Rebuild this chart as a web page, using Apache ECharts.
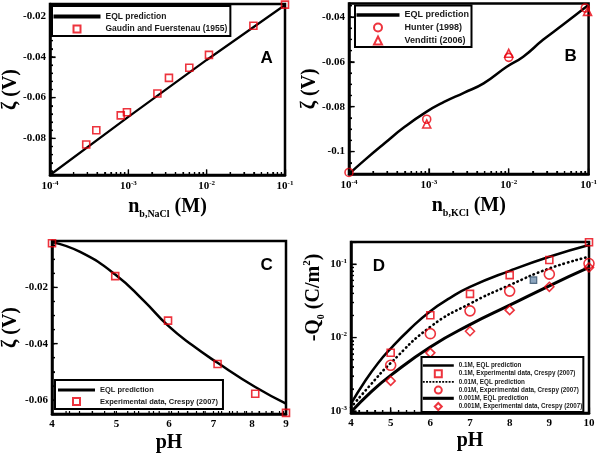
<!DOCTYPE html>
<html><head><meta charset="utf-8">
<script src="https://cdn.jsdelivr.net/npm/echarts@6/dist/echarts.min.js"></script>
<style>html,body{margin:0;padding:0;background:#fff}#c{width:600px;height:454px}</style>
</head><body><div id="c"></div>
<script>
// ---------- Panel A ----------
const aExpX = [2.9e-4, 3.9e-4, 8.0e-4, 9.6e-4, 2.35e-3, 3.3e-3, 6.0e-3, 1.07e-2, 3.95e-2, 0.1];
const aExpY = [-0.083, -0.076, -0.0687, -0.0672, -0.058, -0.0503, -0.0453, -0.039, -0.0247, -0.0143];
const aFitX = [1e-4, 1e-3, 1e-2, 1e-1];
const aFitY = [-0.098, -0.0695, -0.0415, -0.0145];
const aXTicks = [1e-4, 1e-3, 1e-2, 1e-1];
const aYTicks = [-0.08, -0.06, -0.04, -0.02];
// ---------- Panel B ----------
const bFitX = [1e-4, 1.58e-4, 2.79e-4, 4.94e-4, 9.19e-4, 1.55e-3, 2.74e-3, 4.85e-3, 9.44e-3, 1.52e-2, 2.69e-2, 4.77e-2, 9.77e-2];
const bFitY = [-0.11, -0.1037, -0.0963, -0.0891, -0.0824, -0.0779, -0.0738, -0.0696, -0.0622, -0.0577, -0.0502, -0.0435, -0.0349];
const bHunterX = [1e-4, 9.4e-4, 1.0e-2, 9.1e-2];
const bHunterY = [-0.1093, -0.0856, -0.058, -0.036];
const bVendX = [9.4e-4, 1.0e-2, 9.7e-2];
const bVendY = [-0.0877, -0.0562, -0.0375];
const bXTicks = [1e-4, 1e-3, 1e-2, 1e-1];
const bYTicks = [-0.1, -0.08, -0.06, -0.04];
// ---------- Panel C ----------
const cFitX = [4.0, 4.41, 4.98, 5.5, 5.98, 6.5, 7.1, 8.09, 9.0];
const cFitY = [-0.0039, -0.0074, -0.0154, -0.0248, -0.0336, -0.0405, -0.0468, -0.0554, -0.0613];
const cExpX = [4.0, 4.98, 5.98, 7.10, 8.09, 9.0];
const cExpY = [-0.0043, -0.016, -0.0318, -0.0472, -0.0578, -0.0646];
const cXTicks = [4, 5, 6, 7, 8, 9];
const cYTicks = [-0.06, -0.04, -0.02];
// ---------- Panel D ----------
const dFitPH = [4, 4.34, 4.67, 5, 5.5, 6, 6.5, 7, 8, 9, 10];
const dFit01 = [1.26e-3, 2.48e-3, 4.41e-3, 7.08e-3, 0.0133, 0.0229, 0.0347, 0.049, 0.081, 0.126, 0.182];
const dFitPH2 = [4, 4.5, 5, 6, 7, 8, 9, 10];
const dFit001 = [1.12e-3, 2.3e-3, 4.5e-3, 0.014, 0.029, 0.0518, 0.0873, 0.126];
const dFit0001 = [9.7e-4, 1.81e-3, 3.06e-3, 7.45e-3, 0.015, 0.0276, 0.0507, 0.09];
const dExpPH = [5, 6, 7, 8, 9, 10];
const dExp01 = [6.2e-3, 0.0201, 0.0394, 0.0708, 0.1135, 0.198];
const dExp001 = [4.19e-3, 0.0113, 0.0231, 0.0429, 0.073, 0.102];
const dExp0001 = [2.57e-3, 6.2e-3, 0.0122, 0.0236, 0.0491, 0.090];
const dExtraX = [8.6];
const dExtraY = [0.0605];
const dXTicks = [4, 5, 6, 7, 8, 9, 10];
const dYTicks = [0.001, 0.01, 0.1];

// ---------- helpers ----------
const SERIF = '"Liberation Serif","Times New Roman",serif';
const SANS = '"Liberation Sans",Arial,sans-serif';
const RED = '#e8000d';
const pairs = (xs, ys) => xs.map((x, i) => [x, ys[i]]);
function logMinor(lo, hi) {
  const out = [];
  for (let k = Math.floor(Math.log10(lo)); k <= Math.ceil(Math.log10(hi)); k++) {
    for (let m = 2; m <= 9; m++) {
      const v = +(m * Math.pow(10, k)).toPrecision(3);
      if (v > lo * 1.0001 && v < hi * 0.9999) out.push(v);
    }
  }
  return out;
}
function linMinor(lo, hi, step) {
  const out = [];
  const n0 = Math.ceil(lo / step - 1e-9), n1 = Math.floor(hi / step + 1e-9);
  for (let n = n0; n <= n1; n++) out.push(+(n * step).toFixed(6));
  return out;
}
const isPow10 = v => v > 0 && Math.abs(Math.log10(v) - Math.round(Math.log10(v))) < 1e-6;
const pow10Fmt = v => isPow10(v) ? '{b|10}{s|' + Math.round(Math.log10(v)) + '}' : '';
const listFmt = list => v => { const t = list.find(t => Math.abs(t - v) < 1e-9); return t === undefined ? '' : String(t); };
const pow10Rich = {
  b: {fontFamily: SERIF, fontWeight: 'bold', fontSize: 11, color: '#000', lineHeight: 13},
  s: {fontFamily: SERIF, fontWeight: 'bold', fontSize: 7, color: '#000', verticalAlign: 'top', lineHeight: 8}
};
const titleRich = {
  n: {fontFamily: SERIF, fontWeight: 'bold', fontSize: 20, color: '#000', lineHeight: 24},
  s: {fontFamily: SERIF, fontWeight: 'bold', fontSize: 10, color: '#000', verticalAlign: 'bottom', lineHeight: 13},
  p: {fontFamily: SERIF, fontWeight: 'bold', fontSize: 11, color: '#000', verticalAlign: 'top', lineHeight: 12}
};
const TICK_STYLE = {color: '#000', width: 1.2};
function axis(o) {
  const ax = {
    gridIndex: o.grid, type: o.type, min: o.min, max: o.max, position: o.position,
    axisLine: {show: true, onZero: false, lineStyle: {color: '#000', width: 2.5}}, splitLine: {show: false},
    axisTick: {show: o.ticks !== false, inside: true, length: 5.5, lineStyle: TICK_STYLE},
    minorTick: {show: !!o.minor, splitNumber: o.minor || 5, length: 3, lineStyle: TICK_STYLE},
    axisLabel: {show: o.labels !== false, color: '#000', fontFamily: SERIF, fontWeight: 'bold',
                fontSize: 11, margin: o.margin || 4, formatter: o.fmt},
    nameMoveOverlap: false
  };
  if (o.splitNumber) ax.splitNumber = o.splitNumber;
  if (o.interval) ax.interval = o.interval;
  if (o.custom) ax.axisLabel.customValues = o.custom;
  if (o.pow) { ax.axisLabel.formatter = pow10Fmt; ax.axisLabel.rich = pow10Rich; }
  if (o.name) {
    Object.assign(ax, {name: o.name, nameLocation: 'middle', nameGap: o.nameGap,
                       nameTextStyle: Object.assign({rich: titleRich}, o.nameStyle || {})});
  }
  return ax;
}
// extra inward ticks placed through the axes' own scales (api.coord)
function tickSeries(ai, xMajor, xMinor, yMajor, yMinor, xMin, yMin) {
  const data = [];
  xMajor.forEach(v => data.push([v, yMin, 5.5, 0]));
  xMinor.forEach(v => data.push([v, yMin, 3, 0]));
  yMajor.forEach(v => data.push([xMin, v, 5.5, 1]));
  yMinor.forEach(v => data.push([xMin, v, 3, 1]));
  return {
    type: 'custom', name: 'ticks' + ai, xAxisIndex: ai, yAxisIndex: ai, data, silent: true, z: 4,
    encode: {x: 0, y: 1}, clip: false,
    renderItem(params, api) {
      const cs = params.coordSys;
      const p = api.coord([api.value(0), api.value(1)]);
      const len = api.value(2);
      const shape = api.value(3) === 0
        ? {x1: p[0], y1: cs.y + cs.height, x2: p[0], y2: cs.y + cs.height - len}
        : {x1: cs.x, y1: p[1], x2: cs.x + len, y2: p[1]};
      return {type: 'line', shape, style: {stroke: '#000', lineWidth: 1.2}};
    }
  };
}
const LINE_ICON = 'path://M0,0H100V8H0Z';
const THICK_ICON = 'path://M0,0H100V10H0Z';
const SQ_ICON = 'path://M0,0H10V10H0Z';
const TRI_ICON = 'path://M5,0L10,10H0Z';
const DIA_ICON = 'path://M5,0L10,5L5,10L0,5Z';
let dots = '';
for (let i = 0; i < 10; i++) dots += 'M' + (i * 10) + ',0h6v6h-6Z';
const DOT_ICON = 'path://' + dots;

const grids = [
  {left: 49, top: 4, width: 236, height: 171},
  {left: 349, top: 3.5, width: 242, height: 170.5},
  {left: 50, top: 241, width: 236, height: 173},
  {left: 351, top: 242, width: 238, height: 171}
].map(g => Object.assign(g, {show: true, borderColor: '#000', borderWidth: 2.5, backgroundColor: 'transparent'}));

const xAxes = [
  axis({grid: 0, type: 'log', min: 1e-4, max: 1e-1, pow: true, margin: 5, minor: 9, position: 'bottom',
        name: '{n|n}{s|b,NaCl}{n| (M)}', nameGap: 20}),
  axis({grid: 1, type: 'log', min: 1e-4, max: 1e-1, pow: true, margin: 5, minor: 9, position: 'bottom',
        name: '{n|n}{s|b,KCl}{n| (M)}', nameGap: 20}),
  axis({grid: 2, type: 'log', min: 4, max: 9, labels: false, minor: 25, position: 'bottom'}),
  axis({grid: 3, type: 'value', min: 4, max: 10, interval: 1, margin: 5, minor: 5, position: 'bottom',
        fmt: listFmt(dXTicks), name: '{n|pH}', nameGap: 16}),
  // labels for panel C's logarithmic pH axis
  Object.assign(axis({grid: 2, type: 'log', min: 4, max: 9, ticks: false, margin: 5, custom: cXTicks,
        position: 'bottom', fmt: listFmt(cXTicks), name: '{n|pH}', nameGap: 17}),
        {axisLine: {show: false, onZero: false}})
];
const yAxes = [
  axis({grid: 0, type: 'value', min: -0.098, max: -0.014, splitNumber: 5, minor: 5, position: 'left',
        fmt: listFmt(aYTicks), name: '{n|ζ (V)}', nameGap: 27}),
  axis({grid: 1, type: 'value', min: -0.11, max: -0.034, splitNumber: 5, minor: 4, position: 'left',
        fmt: listFmt(bYTicks), name: '{n|ζ (V)}', nameGap: 27}),
  axis({grid: 2, type: 'value', min: -0.065, max: -0.0035, splitNumber: 3, minor: 4, position: 'left',
        fmt: listFmt(cYTicks), name: '{n|ζ (V)}', nameGap: 29}),
  axis({grid: 3, type: 'log', min: 0.00094, max: 0.2, pow: true, minor: 9, position: 'left',
        name: '{n|-Q}{s|0}{n| (C/m}{p|2}{n|)}', nameGap: 25, nameStyle: {padding: [0, 0, 0, 60]}})
];

function fitLine(name, xi, yi, data, extra) {
  return Object.assign({
    type: 'line', name, xAxisIndex: xi, yAxisIndex: yi, data,
    symbol: 'none', showSymbol: false, smooth: true,
    lineStyle: {color: '#000', width: 2.5}, itemStyle: {color: '#000'}, z: 2
  }, extra || {});
}
function marks(name, xi, yi, data, symbol, size, extra) {
  return Object.assign({
    type: 'scatter', name, xAxisIndex: xi, yAxisIndex: yi, data, symbol, symbolSize: size,
    itemStyle: {color: 'rgba(255,255,255,0)', borderColor: RED, borderWidth: 1.6}, z: 3
  }, extra || {});
}

const series = [
  tickSeries(0, aXTicks, logMinor(1e-4, 1e-1), aYTicks, linMinor(-0.098, -0.014, 0.004), 1e-4, -0.098),
  tickSeries(1, bXTicks, logMinor(1e-4, 1e-1), bYTicks, linMinor(-0.11, -0.034, 0.005), 1e-4, -0.11),
  tickSeries(2, [], linMinor(4, 9, 0.2), cYTicks, linMinor(-0.065, -0.0035, 0.005), 4, -0.065),
  tickSeries(3, dXTicks, linMinor(4, 10, 0.2), dYTicks, logMinor(0.00094, 0.2), 4, 0.00094),
  fitLine('EQL prediction', 0, 0, pairs(aFitX, aFitY), {smooth: false, lineStyle: {color: '#000', width: 2.2}}),
  marks('Gaudin and Fuerstenau (1955)', 0, 0, pairs(aExpX, aExpY), 'rect', 7),
  fitLine('EQL prediction', 1, 1, pairs(bFitX, bFitY)),
  marks('Hunter (1998)', 1, 1, pairs(bHunterX, bHunterY), 'circle', 8),
  marks('Venditti (2006)', 1, 1, pairs(bVendX, bVendY), 'triangle', 8),
  fitLine('EQL prediction', 2, 2, pairs(cFitX, cFitY)),
  marks('Experimental data, Crespy (2007)', 2, 2, pairs(cExpX, cExpY), 'rect', 7),
  fitLine('0.1M, EQL prediction', 3, 3, pairs(dFitPH, dFit01)),
  marks('0.1M, Experimental data, Crespy (2007)', 3, 3, pairs(dExpPH, dExp01), 'rect', 7),
  fitLine('0.01M, EQL prediction', 3, 3, pairs(dFitPH2, dFit001),
          {lineStyle: {color: '#000', width: 2.6, type: [0.5, 4], cap: 'round'}}),
  marks('0.01M, Experimental data, Crespy (2007)', 3, 3, pairs(dExpPH, dExp001), 'circle', 10),
  fitLine('0.001M, EQL prediction', 3, 3, pairs(dFitPH2, dFit0001), {lineStyle: {color: '#000', width: 3}}),
  marks('0.001M, Experimental data, Crespy (2007)', 3, 3, pairs(dExpPH, dExp0001), 'diamond', 9),
  marks('extra point', 3, 3, pairs(dExtraX, dExtraY), 'rect', 6.5,
        {itemStyle: {color: '#6f8fae', borderColor: '#33506b', borderWidth: 1.2}})
];

function legend(o) {
  return {
    orient: 'vertical', left: o.left, top: o.top, padding: o.padding,
    itemWidth: o.iw, itemHeight: o.ih, itemGap: o.gap, symbolKeepAspect: true,
    backgroundColor: '#fff', borderColor: '#000', borderWidth: 2, borderRadius: 0,
    selectedMode: false, z: 5,
    textStyle: {fontFamily: SANS, fontWeight: 'bold', fontSize: o.fs, color: '#1a1a1a', padding: 0},
    data: o.data
  };
}
const legends = [
  legend({left: 52, top: 6, padding: [6, 3, 2.5, 1.5], iw: 47, ih: 7, gap: 3.5, fs: 8.5,
          data: [{name: 'EQL prediction', icon: LINE_ICON}, {name: 'Gaudin and Fuerstenau (1955)', icon: SQ_ICON}]}),
  legend({left: 355, top: 5.5, padding: [5, 2.5, 1.5, 1.5], iw: 43, ih: 8, gap: 3, fs: 9,
          data: [{name: 'EQL prediction', icon: LINE_ICON}, {name: 'Hunter (1998)'}, {name: 'Venditti (2006)', icon: TRI_ICON}]}),
  legend({left: 55, top: 380, padding: [6, 5, 3, 3], iw: 37, ih: 7, gap: 3, fs: 7.5,
          data: [{name: 'EQL prediction', icon: LINE_ICON}, {name: 'Experimental data, Crespy (2007)', icon: SQ_ICON}]}),
  legend({left: 421.5, top: 357, padding: [5.5, 1, 1, 1.3], iw: 31, ih: 7, gap: 0.7, fs: 6.3,
          data: [{name: '0.1M, EQL prediction', icon: LINE_ICON},
                 {name: '0.1M, Experimental data, Crespy (2007)', icon: SQ_ICON},
                 {name: '0.01M, EQL prediction', icon: DOT_ICON},
                 {name: '0.01M, Experimental data, Crespy (2007)'},
                 {name: '0.001M, EQL prediction', icon: THICK_ICON},
                 {name: '0.001M, Experimental data, Crespy (2007)', icon: DIA_ICON}]})
];

const letter = (t, x, y) => ({
  type: 'text', x, y, z: 10,
  style: {text: t, fill: '#000', font: 'bold 17px "Liberation Sans", Arial, sans-serif',
          textAlign: 'center', textVerticalAlign: 'middle', align: 'center', verticalAlign: 'middle'}
});

const chart = echarts.init(document.getElementById('c'), null, {renderer: 'canvas'});
chart.setOption({
  animation: false,
  backgroundColor: '#fff',
  grid: grids,
  xAxis: xAxes,
  yAxis: yAxes,
  legend: legends,
  series,
  graphic: [letter('A', 266.7, 58.3), letter('B', 570.7, 56.7), letter('C', 266.7, 265.7), letter('D', 379, 266.7)]
});
</script></body></html>
